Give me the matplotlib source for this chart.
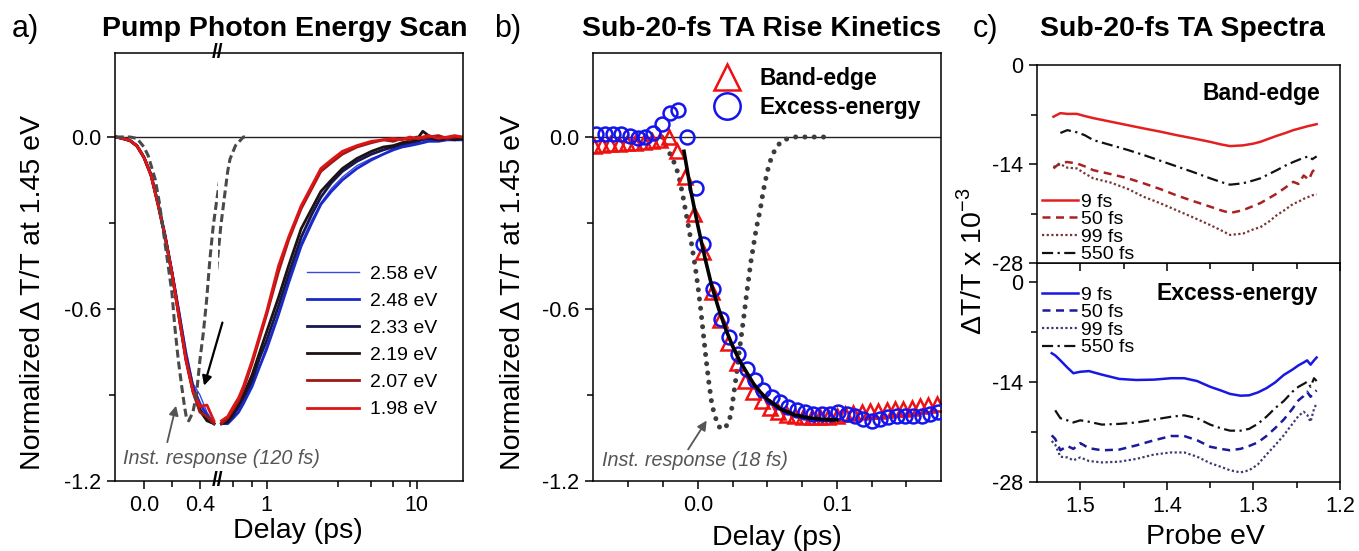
import matplotlib.pyplot as plt
import numpy as np

plt.rcParams['font.family'] = ['Liberation Sans', 'DejaVu Sans']
plt.rcParams['mathtext.fontset'] = 'custom'
plt.rcParams['mathtext.rm'] = 'Liberation Sans'
plt.rcParams['axes.unicode_minus'] = False
plt.rcParams['axes.linewidth'] = 1.1
plt.rcParams['xtick.direction'] = 'out'
plt.rcParams['ytick.direction'] = 'out'

# ---------------- panel a: pump photon energy scan ----------------
t_a = np.array([-0.2, -0.15, -0.1, -0.05, 0.0, 0.05, 0.1, 0.15, 0.2, 0.25, 0.3, 0.35, 0.4, 0.45, 0.5,
                0.55, 0.6, 0.65, 0.7, 0.8, 0.9, 1.0, 1.2, 1.4, 1.7, 2.0, 2.3, 2.7, 3.2, 4.0,
                5.0, 6.0, 7.0, 8.0, 9.0, 10.0, 11.0, 12.0, 14.0, 16.0, 18.0, 20.0])
pump_labels = ['2.58 eV', '2.48 eV', '2.33 eV', '2.19 eV', '2.07 eV', '1.98 eV']
pump_colors = ['#3848e0', '#1a2ac8', '#161650', '#1c1212', '#a01818', '#dd1515']
pump_widths = [1.0, 2.0, 2.0, 2.0, 2.0, 2.0]
sig_258 = [0.0, -0.004, -0.01, -0.028, -0.068, -0.128, -0.225, -0.335, -0.46, -0.60, -0.74, -0.86, -0.90, -0.96, -1.0,
           -0.99, -0.97, -0.95, -0.92, -0.86, -0.80, -0.73, -0.62, -0.50, -0.37, -0.29, -0.23, -0.18, -0.14, -0.10,
           -0.075, -0.06, -0.04, -0.03, -0.025, -0.02, -0.02, -0.01, -0.015, -0.01, -0.005, -0.01]
sig_248 = [0.0, -0.005, -0.012, -0.03, -0.07, -0.13, -0.23, -0.34, -0.47, -0.61, -0.76, -0.87, -0.93, -0.97, -1.0,
           -1.0, -0.98, -0.96, -0.93, -0.87, -0.80, -0.74, -0.62, -0.51, -0.38, -0.30, -0.235, -0.19, -0.15, -0.11,
           -0.08, -0.06, -0.045, -0.035, -0.03, -0.025, -0.02, -0.015, -0.015, -0.01, -0.01, -0.01]
sig_233 = [0.0, -0.005, -0.012, -0.031, -0.071, -0.132, -0.232, -0.343, -0.473, -0.62, -0.77, -0.88, -0.95, -0.985, -1.0,
           -0.995, -0.97, -0.94, -0.91, -0.85, -0.77, -0.71, -0.59, -0.48, -0.35, -0.27, -0.21, -0.16, -0.12, -0.085,
           -0.06, -0.045, -0.035, -0.025, -0.02, -0.015, -0.01, -0.005, -0.01, -0.005, 0.0, -0.005]
sig_219 = [0.0, -0.006, -0.013, -0.032, -0.072, -0.133, -0.235, -0.346, -0.476, -0.625, -0.775, -0.885, -0.955, -0.99, -1.0,
           -0.99, -0.96, -0.93, -0.90, -0.83, -0.75, -0.68, -0.56, -0.45, -0.32, -0.25, -0.19, -0.15, -0.11, -0.075,
           -0.05, -0.035, -0.03, -0.02, -0.015, -0.01, 0.02, 0.005, -0.01, -0.005, -0.01, -0.005]
sig_207 = [0.0, -0.006, -0.013, -0.032, -0.072, -0.134, -0.236, -0.348, -0.478, -0.628, -0.78, -0.89, -0.96, -0.975, -1.0,
           -0.98, -0.95, -0.92, -0.88, -0.79, -0.70, -0.62, -0.47, -0.36, -0.25, -0.18, -0.12, -0.09, -0.06, -0.035,
           -0.02, -0.01, -0.015, -0.005, -0.01, 0.0, -0.005, 0.0, 0.005, -0.005, 0.0, 0.0]
sig_198 = [0.0, -0.005, -0.012, -0.031, -0.071, -0.132, -0.233, -0.345, -0.475, -0.625, -0.775, -0.885, -0.94, -0.935, -0.99,
           -0.975, -0.94, -0.91, -0.87, -0.78, -0.69, -0.61, -0.45, -0.35, -0.24, -0.17, -0.11, -0.08, -0.05, -0.03,
           -0.015, -0.01, -0.005, -0.01, 0.0, -0.005, 0.0, 0.005, -0.005, 0.0, 0.005, 0.0]
pump_series = [sig_258, sig_248, sig_233, sig_219, sig_207, sig_198]

irf_a_t = np.array([-0.2, -0.1, -0.05, 0.0, 0.03, 0.08, 0.11, 0.16, 0.2, 0.22, 0.245, 0.27, 0.29, 0.305, 0.32,
                    0.35, 0.376, 0.4, 0.424, 0.448, 0.471, 0.495, 0.52, 0.55, 0.57, 0.62, 0.7, 0.75])
irf_a = [0.0, 0.0, -0.005, -0.035, -0.065, -0.147, -0.229, -0.404, -0.544, -0.66, -0.777, -0.871, -0.941, -0.984,
         -0.99, -0.96, -0.894, -0.777, -0.684, -0.567, -0.427, -0.31, -0.22, -0.12, -0.077, -0.03, 0.0, 0.0]

# ---------------- panel b: rise kinetics ----------------
t_exc = [-0.073, -0.067, -0.061, -0.055, -0.049, -0.043, -0.038, -0.032, -0.026, -0.020, -0.014, -0.008, -0.001,
         0.004, 0.0106, 0.0163, 0.0225, 0.029, 0.035, 0.041, 0.047, 0.053, 0.059, 0.065, 0.071, 0.077, 0.083,
         0.089, 0.095, 0.101, 0.107, 0.113, 0.119, 0.125, 0.131, 0.137, 0.143, 0.149, 0.155, 0.161, 0.167, 0.173]
y_exc = [0.009, 0.012, 0.012, 0.009, 0.003, -0.002, 0.0, 0.015, 0.044, 0.085, 0.093, 0.0, -0.179,
         -0.375, -0.53, -0.634, -0.698, -0.758, -0.808, -0.849, -0.883, -0.907, -0.924, -0.941, -0.953, -0.961, -0.965,
         -0.967, -0.965, -0.961, -0.965, -0.975, -0.985, -0.99, -0.985, -0.978, -0.975, -0.975, -0.975, -0.972, -0.968, -0.96]
t_band = [-0.075, -0.069, -0.063, -0.057, -0.051, -0.045, -0.039, -0.033, -0.027, -0.021, -0.015, -0.009, -0.003,
          0.004, 0.010, 0.016, 0.022, 0.028, 0.034, 0.040, 0.046, 0.052, 0.058, 0.064, 0.070, 0.076, 0.082, 0.088,
          0.094, 0.100, 0.106, 0.112, 0.118, 0.124, 0.130, 0.136, 0.142, 0.148, 0.154, 0.160, 0.166, 0.172]
y_band = [-0.03, -0.028, -0.026, -0.025, -0.022, -0.02, -0.018, -0.015, -0.01, 0.0, -0.05, -0.14, -0.27,
          -0.40, -0.54, -0.64, -0.72, -0.79, -0.85, -0.89, -0.92, -0.945, -0.96, -0.97, -0.975, -0.978, -0.978, -0.978,
          -0.976, -0.972, -0.965, -0.962, -0.958, -0.955, -0.955, -0.952, -0.95, -0.948, -0.945, -0.94, -0.935, -0.93]
t_fit = [-0.010, -0.005, 0.0, 0.005, 0.010, 0.015, 0.020, 0.025, 0.030, 0.035, 0.040, 0.045, 0.050, 0.060,
         0.070, 0.080, 0.090, 0.100]
y_fit = [-0.05, -0.19, -0.31, -0.42, -0.52, -0.60, -0.67, -0.73, -0.78, -0.82, -0.86, -0.89, -0.915, -0.95,
         -0.97, -0.98, -0.985, -0.987]
t_irf_b = [-0.026, -0.021, -0.017, -0.014, -0.011, -0.008, -0.005, -0.002, 0.000, 0.002, 0.004, 0.006, 0.008,
           0.010, 0.012, 0.015, 0.018, 0.022, 0.024, 0.026, 0.028, 0.030, 0.033, 0.035, 0.038, 0.040, 0.042,
           0.045, 0.047, 0.050, 0.053, 0.056, 0.060, 0.065, 0.070, 0.080, 0.090, 0.097]
y_irf_b = [0.0, -0.05, -0.09, -0.13, -0.20, -0.28, -0.36, -0.45, -0.52, -0.60, -0.69, -0.78, -0.86,
           -0.93, -0.97, -1.01, -1.02, -1.0, -0.96, -0.89, -0.82, -0.74, -0.63, -0.55, -0.44, -0.38, -0.32,
           -0.25, -0.19, -0.12, -0.07, -0.04, -0.015, -0.005, 0.0, 0.0, 0.0, 0.0]

# ---------------- panel c: TA spectra ----------------
delays = ['9 fs', '50 fs', '99 fs', '550 fs']
e_top = [1.531, 1.523, 1.515, 1.504, 1.495, 1.485, 1.465, 1.445, 1.427, 1.408, 1.389, 1.37, 1.35, 1.338,
         1.327, 1.312, 1.3, 1.292, 1.282, 1.273, 1.263, 1.254, 1.248, 1.242, 1.236, 1.232, 1.227]
band_9 = [-7.3, -6.8, -6.9, -6.9, -7.2, -7.5, -8.0, -8.5, -8.95, -9.4, -9.9, -10.35, -10.85, -11.2,
          -11.45, -11.35, -11.1, -10.85, -10.4, -10.0, -9.6, -9.2, -9.0, -8.8, -8.6, -8.5, -8.35]
band_50 = [-14.6, -13.8, -13.7, -13.9, -14.3, -14.85, -15.4, -16.0, -16.7, -17.5, -18.4, -19.2, -20.0, -20.5,
           -20.9, -20.5, -19.9, -19.5, -18.8, -18.15, -17.3, -16.5, -16.8, -15.6, -16.2, -15.1, -14.4]
band_99 = [-14.4, -14.0, -14.5, -14.6, -15.3, -16.0, -16.6, -17.5, -18.6, -19.5, -20.5, -21.5, -22.6, -23.3,
           -24.0, -23.8, -23.2, -22.9, -22.1, -21.2, -20.4, -19.6, -19.3, -18.9, -18.6, -18.4, -18.25]
band_550 = [np.nan, -9.6, -9.2, -9.5, -9.9, -10.6, -11.3, -12.0, -12.7, -13.5, -14.3, -15.1, -16.0, -16.5,
            -16.9, -16.7, -16.3, -16.0, -15.4, -14.85, -14.2, -13.7, -13.4, -13.1, -12.9, -13.3, -12.9]
e_bot = [1.533, 1.529, 1.523, 1.515, 1.508, 1.5, 1.49, 1.475, 1.455, 1.435, 1.415, 1.395, 1.38, 1.365, 1.35,
         1.338, 1.327, 1.315, 1.305, 1.295, 1.285, 1.275, 1.265, 1.255, 1.248, 1.242, 1.238, 1.234, 1.23, 1.227]
exc_9 = [-10.0, -10.3, -11.0, -12.0, -12.8, -12.6, -12.5, -13.0, -13.6, -13.75, -13.7, -13.5, -13.5, -13.9, -14.7,
         -15.2, -15.7, -15.95, -15.9, -15.5, -14.9, -14.1, -13.05, -12.3, -11.7, -11.3, -11.0, -11.6, -11.0, -10.6]
exc_50 = [-21.5, -22.0, -23.6, -23.0, -23.4, -22.6, -23.3, -23.6, -23.5, -22.9, -22.2, -21.6, -21.6, -22.2, -23.1,
          -23.4, -23.6, -23.4, -23.0, -22.5, -21.6, -20.5, -19.3, -17.8, -16.6, -16.0, -15.4, -16.1, -15.5, -15.2]
exc_99 = [-22.3, -22.8, -24.5, -24.6, -25.0, -24.6, -25.1, -25.3, -25.2, -24.8, -24.2, -23.9, -23.9, -24.5, -25.4,
          -25.9, -26.4, -26.7, -26.4, -25.6, -24.2, -22.9, -21.5, -19.9, -18.8, -18.2, -18.6, -19.6, -17.8, -17.0]
exc_550 = [np.nan, -18.0, -19.1, -19.4, -19.7, -19.4, -19.6, -20.0, -19.9, -19.7, -19.3, -18.9, -18.7, -19.1, -20.0,
           -20.5, -20.85, -20.85, -20.6, -19.9, -18.9, -17.7, -16.7, -15.4, -14.7, -14.3, -14.0, -14.7, -13.5, -13.9]

W, H = 1359, 551
fig = plt.figure(figsize=(W / 100, H / 100), dpi=100)


def box(x0, y0, x1, y1):
    # pixel box (top-left origin) -> figure fraction rect
    return [x0 / W, 1 - y1 / H, (x1 - x0) / W, (y1 - y0) / H]


TICK = 15.5
LAB = 20.5
YTOP = 0.293

# ---- panel a (broken axis: linear + log) ----
a1 = fig.add_axes(box(115, 53, 218, 481))
a2 = fig.add_axes(box(218, 53, 463, 481))
a1.set_zorder(3)
a1.patch.set_visible(False)
a2.set_zorder(2)
left = t_a <= 0.5
right = t_a >= 0.5
for ys, c, lw, lab in zip(pump_series, pump_colors, pump_widths, pump_labels):
    ys = np.array(ys)
    a1.plot(t_a[left], ys[left], color=c, lw=lw)
    a2.plot(t_a[right], ys[right], color=c, lw=lw, label=lab)
ir_ls = (0, (2.6, 1.3))
a1.plot(irf_a_t, irf_a, color='#4a4a4a', lw=2.2, ls=ir_ls)
a2.plot(irf_a_t, irf_a, color='#4a4a4a', lw=2.2, ls=ir_ls)
for ax in (a1, a2):
    ax.axhline(0, color='#222222', lw=1.0, zorder=0)
    ax.set_ylim(-1.2, YTOP)
a1.set_xlim(-0.207, 0.529)
a2.set_xscale('log')
a2.set_xlim(0.474, 20.4)
a1.spines['right'].set_visible(False)
a2.spines['left'].set_visible(False)
a1.set_xticks([0.0, 0.4], ['0.0', '0.4'])
a1.set_xticks([0.2], minor=True)
a2.set_xticks([1, 10], ['1', '10'])
a2.set_xticks([0.6, 0.8, 3, 5, 7, 9], minor=True)
a2.xaxis.set_minor_formatter(plt.NullFormatter())
a1.set_yticks([0.0, -0.6, -1.2], ['0.0', '-0.6', '-1.2'])
a1.set_yticks([-0.3, -0.9], minor=True)
a2.set_yticks([])
a2.tick_params(axis='y', which='both', left=False, right=False)
for ax in (a1, a2):
    ax.tick_params(which='major', length=6, width=1.1, labelsize=TICK, pad=4)
    ax.tick_params(which='minor', length=4, width=1.1)
a1.set_ylabel('Normalized \u0394 T/T at 1.45 eV', fontsize=LAB)
a1.yaxis.set_label_coords(-0.67, 0.44)
fig.text(298 / W, 1 - 531 / H, 'Delay (ps)', fontsize=LAB, ha='center', va='center')
fig.text(218 / W, 1 - 53 / H, '//', fontsize=15, weight='bold', ha='center', va='center')
fig.text(218 / W, 1 - 481 / H, '//', fontsize=15, weight='bold', ha='center', va='center')
a2.legend(loc='upper left', bbox_to_anchor=(307 / W, 1 - 265 / H), bbox_transform=fig.transFigure,
          frameon=False, fontsize=14, handlelength=2.66, handletextpad=0.6, labelspacing=0.49,
          borderpad=0, borderaxespad=0)
a1.annotate('', xy=(0.424, -0.877), xytext=(0.566, -0.638), annotation_clip=False,
            arrowprops=dict(arrowstyle='-|>', color='black', lw=1.6, mutation_scale=14))
a1.annotate('', xy=(0.234, -0.928), xytext=(0.162, -1.074), annotation_clip=False,
            arrowprops=dict(arrowstyle='-|>', color='#555555', lw=1.3, mutation_scale=14))
a1.text(-0.148, -1.12, 'Inst. response (120 fs)', fontsize=14.2, style='italic', color='#555555',
        ha='left', va='center', clip_on=False)

# ---- panel b ----
b = fig.add_axes(box(593, 53, 941, 481))
b.axhline(0, color='#222222', lw=1.0, zorder=0)
b.plot(t_irf_b, y_irf_b, color='#3c3c3c', lw=3.6, ls=(0, (0.01, 1.85)), dash_capstyle='round', zorder=1)
b.plot(t_band, y_band, ls='none', marker='^', ms=10, mfc='none', mec='#ee1111', mew=1.8,
       label='Band-edge', zorder=2)
b.plot(t_exc, y_exc, ls='none', marker='o', ms=10, mfc='none', mec='#1414ee', mew=1.8,
       label='Excess-energy', zorder=3)
b.plot(t_fit, y_fit, color='black', lw=2.6, zorder=4)
b.set_xlim(-0.0755, 0.175)
b.set_ylim(-1.2, YTOP)
b.set_xticks([0.0, 0.1], ['0.0', '0.1'])
b.set_xticks([-0.05, -0.025, 0.025, 0.05, 0.075, 0.125, 0.15], minor=True)
b.set_yticks([0.0, -0.6, -1.2], ['0.0', '-0.6', '-1.2'])
b.set_yticks([-0.3, -0.9], minor=True)
b.tick_params(which='major', length=6, width=1.1, labelsize=TICK, pad=4)
b.tick_params(which='minor', length=4, width=1.1)
b.set_ylabel('Normalized \u0394 T/T at 1.45 eV', fontsize=LAB)
b.yaxis.set_label_coords(-0.193, 0.44)
fig.text(777 / W, 1 - 538 / H, 'Delay (ps)', fontsize=LAB, ha='center', va='center')
b.legend(loc='upper left', bbox_to_anchor=(713 / W, 1 - 67.5 / H), bbox_transform=fig.transFigure,
         frameon=False, prop={'size': 16.5, 'weight': 'bold'}, markerscale=1.9,
         handlelength=1.2, handletextpad=0.85, labelspacing=0.23, borderpad=0, borderaxespad=0)
b.annotate('', xy=(0.0074, -0.981), xytext=(-0.0081, -1.098),
           arrowprops=dict(arrowstyle='-|>', color='#555555', lw=1.3, mutation_scale=14))
b.text(-0.0693, -1.128, 'Inst. response (18 fs)', fontsize=14.2, style='italic', color='#555555',
       ha='left', va='center')

# ---- panel c ----
ct = fig.add_axes(box(1037, 65, 1340, 263.3))
cb = fig.add_axes(box(1037, 263.3, 1340, 481.7))
ct.set_zorder(3)
styles = ['-', (0, (3.2, 2.2)), (0, (1, 1.1)), (0, (5, 2, 1, 2))]
top_cols = ['#e32020', '#a82222', '#7a3434', '#111111']
bot_cols = ['#1818e0', '#1a1a9a', '#3c3c70', '#111111']
widths_c = [1.8, 1.8, 1.6, 1.6]
for ys, c, ls, lw, lab in zip([band_9, band_50, band_99, band_550], top_cols, styles, widths_c, delays):
    ct.plot(e_top, ys, color=c, ls=ls, lw=lw, label=lab)
for ys, c, ls, lw, lab in zip([exc_9, exc_50, exc_99, exc_550], bot_cols, styles, widths_c, delays):
    cb.plot(e_bot, ys, color=c, ls=ls, lw=lw, label=lab)
ct.set_ylim(-28, 0)
cb.set_ylim(-28, 2.6)
for ax in (ct, cb):
    ax.set_xlim(1.55, 1.2)
    ax.set_xticks([1.5, 1.4, 1.3, 1.2], ['1.5', '1.4', '1.3', '1.2'])
    ax.set_xticks([1.45, 1.35, 1.25], minor=True)
    ax.set_yticks([0, -14, -28], ['0', '-14', '-28'])
    ax.set_yticks([-7, -21], minor=True)
    ax.tick_params(which='major', length=6, width=1.1, labelsize=TICK, pad=4)
    ax.tick_params(which='minor', length=4, width=1.1)
ct.tick_params(axis='x', labelbottom=False)
ct.text(0.934, 0.857, 'Band-edge', transform=ct.transAxes, fontsize=16.5, weight='bold', ha='right', va='center')
cb.text(0.928, 0.863, 'Excess-energy', transform=cb.transAxes, fontsize=16.5, weight='bold',
        ha='right', va='center')
for ax, ytop in ((ct, 193), (cb, 286)):
    ax.legend(loc='upper left', bbox_to_anchor=(1041.7 / W, 1 - ytop / H), bbox_transform=fig.transFigure,
              frameon=False, fontsize=14, handlelength=1.87, handletextpad=0.17, labelspacing=0.0,
              borderpad=0, borderaxespad=0)
fig.text(972 / W, 1 - 261 / H, '\u0394T/T x 10$^{-3}$', fontsize=LAB, rotation=90, ha='center', va='center')
fig.text(1205 / W, 1 - 537 / H, 'Probe eV', fontsize=LAB, ha='center', va='center')

# ---- titles and panel letters ----
TIT = 20.5
fig.text(285 / W, 1 - 29 / H, 'Pump Photon Energy Scan', fontsize=TIT, weight='bold', ha='center', va='center')
fig.text(762 / W, 1 - 29 / H, 'Sub-20-fs TA Rise Kinetics', fontsize=TIT, weight='bold', ha='center', va='center')
fig.text(1182 / W, 1 - 29 / H, 'Sub-20-fs TA Spectra', fontsize=TIT, weight='bold', ha='center', va='center')
fig.text(25 / W, 1 - 29 / H, 'a)', fontsize=22, ha='center', va='center')
fig.text(508 / W, 1 - 29 / H, 'b)', fontsize=22, ha='center', va='center')
fig.text(985 / W, 1 - 29 / H, 'c)', fontsize=22, ha='center', va='center')

fig.savefig('out.png', dpi=100)
